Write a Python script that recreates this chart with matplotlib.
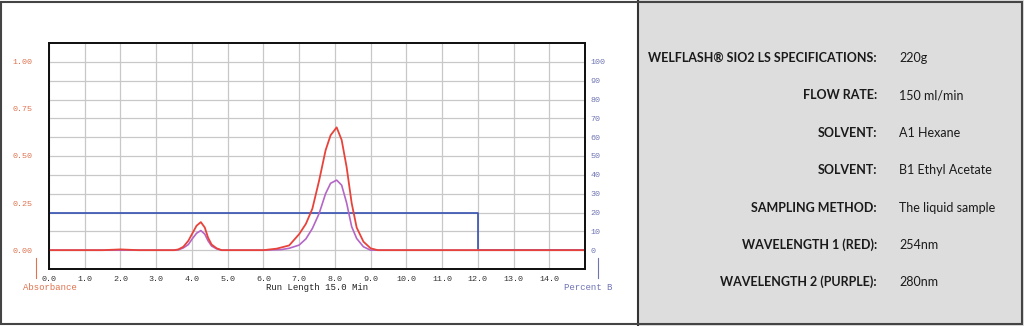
import matplotlib.pyplot as plt
from matplotlib.patches import Rectangle

# run time (min) and absorbance
red_t = [0, 1.5, 2.0, 2.5, 3.5, 3.62, 3.76, 3.9, 4.0, 4.13, 4.25, 4.36, 4.45, 4.55, 4.69, 4.83, 5.0,
         6.0, 6.37, 6.72, 7.0, 7.19, 7.37, 7.56, 7.74, 7.88, 8.05, 8.19, 8.33, 8.47, 8.61, 8.8, 9.0, 9.2, 15.0]
red_v = [0, 0, 0.004, 0, 0, 0.004, 0.018, 0.05, 0.085, 0.13, 0.149, 0.12, 0.067, 0.03, 0.01, 0, 0,
         0, 0.008, 0.025, 0.085, 0.14, 0.22, 0.37, 0.53, 0.61, 0.652, 0.585, 0.44, 0.25, 0.12, 0.045, 0.01, 0, 0]

pur_t = [0, 3.5, 3.62, 3.76, 3.9, 4.0, 4.13, 4.25, 4.36, 4.45, 4.55, 4.69, 4.83, 5.0,
         6.0, 6.5, 6.72, 7.0, 7.19, 7.37, 7.56, 7.74, 7.88, 8.05, 8.19, 8.33, 8.47, 8.61, 8.8, 9.0, 15.0]
pur_v = [0, 0, 0.002, 0.012, 0.03, 0.058, 0.09, 0.104, 0.085, 0.05, 0.022, 0.007, 0, 0,
         0, 0.003, 0.01, 0.027, 0.06, 0.115, 0.195, 0.30, 0.355, 0.372, 0.345, 0.25, 0.125, 0.062, 0.018, 0, 0]

# gradient, percent B
grad_t = [0, 12.0, 12.0, 15.0]
grad_v = [20, 20, 0, 0]

x_ticks = [0, 1, 2, 3, 4, 5, 6, 7, 8, 9, 10, 11, 12, 13, 14]
abs_ticks = [0, 0.25, 0.5, 0.75, 1.0]
pct_ticks = [0, 10, 20, 30, 40, 50, 60, 70, 80, 90, 100]

spec_keys = ['WELFLASH® SIO2 LS SPECIFICATIONS:', 'FLOW RATE:', 'SOLVENT:', 'SOLVENT:',
             'SAMPLING METHOD:', 'WAVELENGTH 1 (RED):', 'WAVELENGTH 2 (PURPLE):']
spec_vals = ['220g', '150 ml/min', 'A1 Hexane', 'B1 Ethyl Acetate',
             'The liquid sample', '254nm', '280nm']

W, H = 1024, 326
orange = '#e0734f'
blue_txt = '#6f74b4'
mono = 'Liberation Mono'

fig = plt.figure(figsize=(W / 100, H / 100), dpi=100)

def fx(px):
    return px / W

def fy(py):
    return 1 - py / H

# right grey panel and borders
fig.patches.append(Rectangle((fx(638), 0), fx(W - 638), 1, transform=fig.transFigure,
                             facecolor='#dcdddc', edgecolor='none', zorder=0))
fig.add_artist(plt.Line2D([fx(638), fx(638)], [0, 1], transform=fig.transFigure, color='#333333', lw=1.5))
fig.patches.append(Rectangle((fx(1), fy(324)), fx(1021), 322 / H, transform=fig.transFigure,
                             facecolor='none', edgecolor='#444444', lw=1.5, zorder=5))

# chart: ax2 (percent B, grid) behind, ax (absorbance) on top
ax2 = fig.add_axes([fx(49), fy(269), fx(585 - 49), (269 - 43) / H])
ax = ax2.twinx()
ax.set_zorder(ax2.get_zorder() + 1)
ax.patch.set_visible(False)

ax2.plot(grad_t, grad_v, color='#3550b0', lw=1.2)
ax2.set_xlim(0, 15)
ax2.set_ylim(-10, 110)
ax2.set_xticks(x_ticks)
ax2.set_xticklabels(['%.1f' % t for t in x_ticks], fontsize=6, family=mono, color='#333333')
ax2.set_yticks(pct_ticks)
ax2.set_yticklabels([str(p) for p in pct_ticks], fontsize=6, family=mono, color=blue_txt)
ax2.yaxis.tick_right()
ax2.grid(True, color='#c8c8c8', lw=0.9)
ax2.tick_params(length=0)
ax2.tick_params(axis='y', pad=4)
ax2.tick_params(axis='x', pad=5)

ax.plot(pur_t, pur_v, color='#b466c6', lw=1.2)
ax.plot(red_t, red_v, color='#e8433a', lw=1.3)
ax.set_ylim(-0.1, 1.1)
ax.set_yticks(abs_ticks)
ax.set_yticklabels(['%.2f' % v for v in abs_ticks], fontsize=6, family=mono, color=orange)
ax.yaxis.tick_left()
ax.tick_params(length=0)
ax.tick_params(axis='y', pad=12)
for a in (ax, ax2):
    for s in a.spines.values():
        s.set_color('#111111')
        s.set_linewidth(1.3)

# axis captions
fig.text(fx(23), fy(287), 'Absorbance', fontsize=6.5, family=mono, color=orange, va='center')
fig.add_artist(plt.Line2D([fx(36), fx(36)], [fy(258), fy(278)], transform=fig.transFigure, color=orange, lw=0.8))
fig.text(fx(317), fy(287), 'Run Length 15.0 Min', fontsize=6.5, family=mono, color='#222222',
         ha='center', va='center')
fig.text(fx(612), fy(287), 'Percent B', fontsize=6.5, family=mono, color=blue_txt, ha='right', va='center')
fig.add_artist(plt.Line2D([fx(598), fx(598)], [fy(258), fy(278)], transform=fig.transFigure, color=blue_txt, lw=0.8))

# specification table
rows_y = [58, 95, 133, 170, 208, 245, 282]
for key, val, y in zip(spec_keys, spec_vals, rows_y):
    fig.text(fx(877), fy(y), key, fontsize=9, family='Lato', weight='bold', color='#1a1a1a',
             ha='right', va='center')
    fig.text(fx(899), fy(y), val, fontsize=9, family='Lato', color='#1a1a1a', ha='left', va='center')

fig.savefig('out.png', dpi=100)
